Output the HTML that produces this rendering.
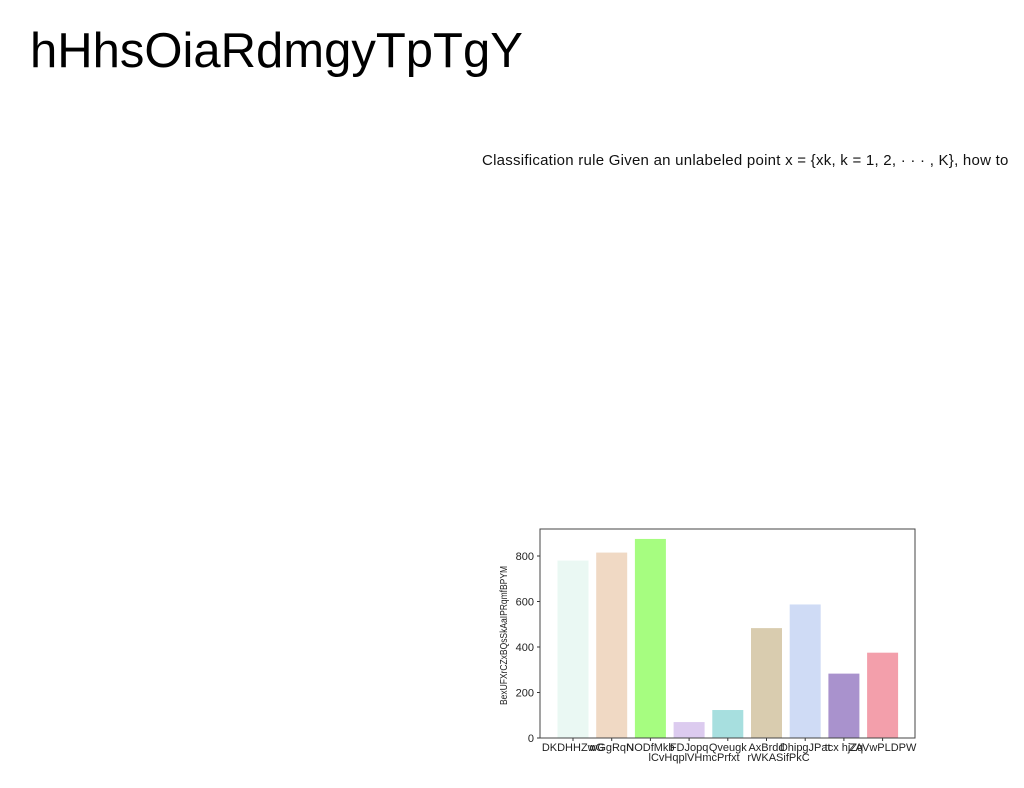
<!DOCTYPE html>
<html><head><meta charset="utf-8"><style>
body{margin:0;width:1024px;height:788px;background:#fff;position:relative;overflow:hidden;font-family:"Liberation Sans",sans-serif}
#title{position:absolute;left:30px;top:23px;font-size:49px;color:#000;letter-spacing:0px}
#desc{position:absolute;left:482px;top:152px;font-size:15px;color:#111;white-space:nowrap;letter-spacing:0.25px}
svg{position:absolute;left:0;top:0}
</style></head><body>
<div id="title">hHhsOiaRdmgyTpTgY</div>
<div id="desc">Classification rule Given an unlabeled point x = {xk, k = 1, 2, · · · , K}, how to</div>
<svg id="chart" width="1024" height="788"></svg>
<script>
const categories=["DKDHHZwG","wGgRqN","NODfMkb","FDJopq","Qveugk","AxBrdd","DhipgJPat","tcx hjZq","ZAVwPLDPW"];
const values=[780,815,875,70,123,483,587,283,375];
const colors=["#eaf8f3","#f0d9c4","#a6fd80","#dccbef","#a7dfdf","#d9ccaf","#cfdbf5","#a992cd","#f39fab"];
const yTicks=[0,200,400,600,800];
const secondLine=[{i:3,t:"lCvHqplVHmcPrfxt"},{i:5,t:"rWKASifPkC"}];
const ns="http://www.w3.org/2000/svg";
const svg=document.getElementById('chart');
const L=540,R=915,T=529,B=738;
const y=v=>B-v*(B-556)/800;
const x0=L+33;
const x=i=>x0+i*38.7;
function mk(tag,a){const e=document.createElementNS(ns,tag);for(const k in a)e.setAttribute(k,a[k]);svg.appendChild(e);return e;}
values.forEach((v,i)=>{
 const r=mk('rect',{x:x(i)-15.5,y:y(v),width:31,height:B-y(v),fill:colors[i]});
 
 
 const t=mk('text',{x:x(i),y:B+13,'font-size':11,'text-anchor':'middle',fill:'#222'});
 t.textContent=categories[i];
 
 
 mk('line',{x1:x(i),x2:x(i),y1:B,y2:B+3,stroke:'#333'});
});
secondLine.forEach((s,k)=>{
 const t=mk('text',{x:x(s.i)+(k===0?5:12),y:B+23,'font-size':11,'text-anchor':'middle',fill:'#222'});
 t.textContent=s.t;
 
 
});
yTicks.forEach(v=>{
 mk('line',{x1:L-3,x2:L,y1:y(v),y2:y(v),stroke:'#333'});
 const t=mk('text',{x:L-6,y:y(v)+4,'font-size':11,'text-anchor':'end',fill:'#222'});
 t.textContent=v;
 
 
});
const f=mk('rect',{x:L,y:T,width:R-L,height:B-T,fill:'none',stroke:'#444','stroke-width':1});


const yt=mk('text',{x:0,y:0,'font-size':10,'text-anchor':'middle',fill:'#222',transform:`translate(507,${(T+B)/2+2}) rotate(-90) scale(0.85,1)`});
yt.textContent="BexUFXrCZxBQsSkAaIPRqmfBPYM";


</script>
</body></html>
